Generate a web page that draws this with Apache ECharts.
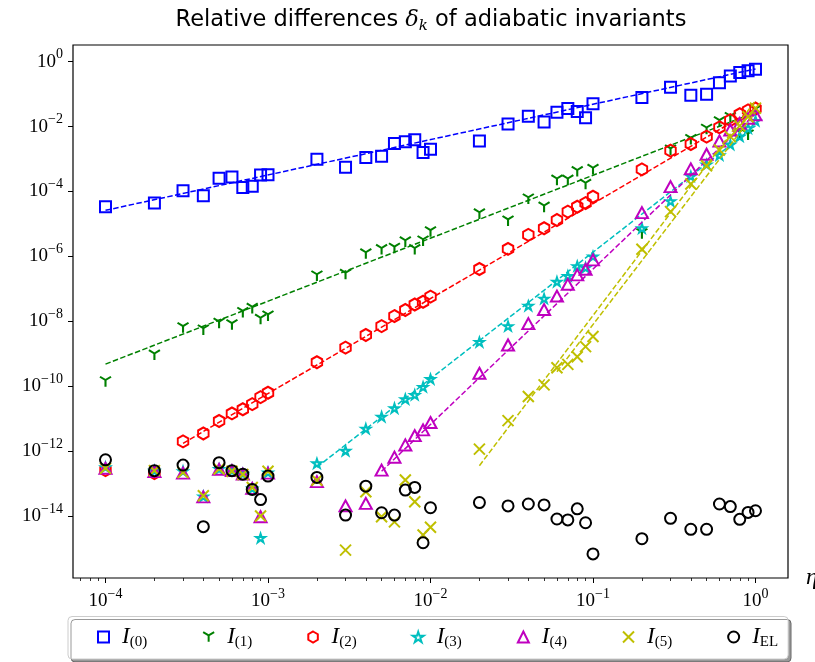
<!DOCTYPE html>
<html>
<head>
<meta charset="utf-8">
<script src="https://cdn.jsdelivr.net/npm/echarts@6/dist/echarts.min.js"></script>
<style>
html,body{margin:0;padding:0;background:#fff;}
#chart{width:815px;height:662px;}
</style>
</head>
<body>
<div id="chart"></div>
<script>
// eta values (x)
const eta = [1e-4,2e-4,3e-4,4e-4,5e-4,6e-4,7e-4,8e-4,9e-4,1e-3,
  2e-3,3e-3,4e-3,5e-3,6e-3,7e-3,8e-3,9e-3,1e-2,
  2e-2,3e-2,4e-2,5e-2,6e-2,7e-2,8e-2,9e-2,0.1,
  0.2,0.3,0.4,0.5,0.6,0.7,0.8,0.9,1.0];

const I0 = [3.4e-5,4.4e-5,1.05e-4,7.4e-5,2.57e-4,2.82e-4,1.32e-4,1.45e-4,3.2e-4,3.3e-4,
  9.8e-4,5.6e-4,1.12e-3,1.23e-3,3.0e-3,3.4e-3,3.9e-3,1.58e-3,2.0e-3,
  3.6e-3,1.2e-2,2.1e-2,1.38e-2,2.75e-2,3.6e-2,2.9e-2,1.86e-2,5.1e-2,
  7.9e-2,0.162,9.3e-2,0.1,0.224,0.363,0.468,0.525,0.589];
const I1 = [1.38e-10,9.1e-10,6.3e-9,5.4e-9,8.7e-9,7.8e-9,1.86e-8,2.5e-8,1.15e-8,1.45e-8,
  2.5e-7,2.8e-7,1.2e-6,1.62e-6,1.78e-6,2.8e-6,1.62e-6,3.0e-6,5.75e-6,
  2.04e-5,1.23e-5,5.9e-5,3.3e-5,2.24e-4,2.24e-4,4.1e-4,1.66e-4,4.8e-4,
  5.0e-6,1.9e-3,4.0e-3,8.3e-3,1.41e-2,1.9e-2,6.3e-3,5.5e-3,3.16e-2];
const I2 = [2.6e-13,2.1e-13,2.0e-12,3.5e-12,8.5e-12,1.45e-11,1.95e-11,2.8e-11,4.6e-11,6.3e-11,
  5.5e-10,1.55e-9,3.8e-9,7.1e-9,1.45e-8,2.24e-8,3.3e-8,4.0e-8,5.75e-8,
  4.1e-7,1.7e-6,4.6e-6,7.4e-6,1.32e-5,2.4e-5,3.4e-5,4.4e-5,6.9e-5,
  4.8e-4,1.82e-3,2.9e-3,4.9e-3,9.5e-3,1.58e-2,2.4e-2,3.16e-2,3.6e-2];
const I3 = [3.2e-13,2.5e-13,2.4e-13,4.0e-14,2.8e-13,2.5e-13,2.0e-13,7.1e-14,2.1e-15,2.2e-13,
  4.2e-13,1.02e-12,4.9e-12,1.15e-11,2.1e-11,4.0e-11,5.4e-11,9.5e-11,1.66e-10,
  2.3e-9,7.1e-9,3.0e-8,5.0e-8,1.66e-7,2.5e-7,5.0e-7,4.5e-7,1.0e-6,
  7.4e-6,5.0e-5,2.95e-4,6.8e-4,1.32e-3,2.8e-3,5.0e-3,8.9e-3,1.5e-2];
const I4 = [2.95e-13,2.35e-13,2.1e-13,3.9e-14,2.75e-13,2.5e-13,1.95e-13,7.1e-14,9.5e-15,2.1e-13,
  1.15e-13,2.05e-14,2.45e-14,2.6e-13,6.5e-13,1.55e-12,3.0e-12,4.5e-12,7.6e-12,
  2.5e-10,1.86e-9,8.5e-9,2.3e-8,6.0e-8,1.38e-7,2.7e-7,4.0e-7,7.8e-7,
  2.24e-5,1.41e-4,5.0e-4,1.41e-3,3.6e-3,7.9e-3,1.26e-2,1.8e-2,2.3e-2];
const I5 = [2.95e-13,2.5e-13,2.2e-13,4.2e-14,2.8e-13,2.4e-13,1.9e-13,7.6e-14,1.0e-14,2.4e-13,
  1.26e-13,8.9e-16,5.6e-14,9.5e-15,6.6e-15,1.29e-13,2.75e-14,2.6e-15,4.5e-15,
  1.15e-12,8.7e-12,4.8e-11,1.1e-10,3.7e-10,4.7e-10,8.1e-10,1.66e-9,3.4e-9,
  1.66e-6,2.4e-5,1.7e-4,6.2e-4,1.9e-3,4.9e-3,1.05e-2,2.0e-2,3.7e-2];
const IEL = [5.4e-13,2.5e-13,3.7e-13,4.7e-15,4.4e-13,2.5e-13,1.95e-13,6.6e-14,3.2e-14,1.7e-13,
  1.55e-13,1.07e-14,8.3e-14,1.26e-14,1.07e-14,6.3e-14,7.6e-14,1.5e-15,1.8e-14,
  2.6e-14,2.05e-14,2.35e-14,2.2e-14,8.1e-15,7.6e-15,1.66e-14,6.2e-15,6.8e-16,
  2.0e-15,8.5e-15,3.9e-15,3.9e-15,2.35e-14,1.95e-14,7.9e-15,1.29e-14,1.45e-14];

// fitted power-law lines (end points)
const fitX0 = [1e-4, 1], fitY0 = [2.63e-5, 0.60];
const fitX1 = [1e-4, 1], fitY1 = [4.8e-10, 2.75e-2];
const fitX2 = [3e-4, 1], fitY2 = [1.74e-12, 3.6e-2];
const fitX3 = [2e-3, 1], fitY3 = [3.2e-13, 1.07e-2];
const fitX4 = [5e-3, 1], fitY4 = [2.4e-13, 2.5e-2];
const fitX5a = [2e-2, 1], fitY5a = [3.55e-13, 6.3e-2];
const fitX5b = [6e-2, 1], fitY5b = [2.8e-10, 2.8e-2];

// axis extents and ticks
const xMin = 6.3096e-5, xMax = 1.5849;
const yMin = 1.23e-16, yMax = 3.27;
const xMajor = [1e-4, 1e-3, 1e-2, 1e-1, 1];
const xMinor = [7e-5,8e-5,9e-5,
  2e-4,3e-4,4e-4,5e-4,6e-4,7e-4,8e-4,9e-4,
  2e-3,3e-3,4e-3,5e-3,6e-3,7e-3,8e-3,9e-3,
  2e-2,3e-2,4e-2,5e-2,6e-2,7e-2,8e-2,9e-2,
  0.2,0.3,0.4,0.5,0.6,0.7,0.8,0.9];
const yMajor = [1e-14,1e-12,1e-10,1e-8,1e-6,1e-4,1e-2,1];

const names = ['I(0)','I(1)','I(2)','I(3)','I(4)','I(5)','IEL'];
const colors = ['#0000ff','#008000','#ff0000','#00bfbf','#bf00bf','#bfbf00','#000000'];

const SYM_TRI_DOWN = 'path://M0,0L0,1M0,0L-0.866,-0.5M0,0L0.866,-0.5';
const SYM_HEX = 'path://M0,-1L0.866,-0.5L0.866,0.5L0,1L-0.866,0.5L-0.866,-0.5Z';
const SYM_STAR = 'path://M0,-1L0.2245,-0.309L0.951,-0.309L0.363,0.118L0.588,0.809L0,0.382L-0.588,0.809L-0.363,0.118L-0.951,-0.309L-0.2245,-0.309Z';
const SYM_X = 'path://M-1,-1L1,1M1,-1L-1,1';

const symbols = ['rect', SYM_TRI_DOWN, SYM_HEX, SYM_STAR, 'triangle', SYM_X, 'circle'];
const sizes = [[11,11],[11,10],[10.5,12],[9,8.6],[12,11],[11,11],[11,11]];
const values = [I0, I1, I2, I3, I4, I5, IEL];

function pair(xs, ys){ return xs.map((x,i)=>[x, ys[i]]); }

const series = [];
values.forEach((v,k)=>{
  series.push({
    name: names[k], type:'scatter', data: pair(eta, v),
    symbol: symbols[k], symbolSize: sizes[k],
    itemStyle: {color:'rgba(0,0,0,0)', borderColor: colors[k], borderWidth: 2, opacity:1},
    z: 3 + k
  });
});
const fits = [[fitX0,fitY0,0],[fitX1,fitY1,1],[fitX2,fitY2,2],[fitX3,fitY3,3],[fitX4,fitY4,4],[fitX5a,fitY5a,5],[fitX5b,fitY5b,5]];
fits.forEach((f,j)=>{
  series.push({
    name: 'fit'+j, type:'line', data: pair(f[0], f[1]),
    symbol:'none', showSymbol:false, silent:true,
    lineStyle:{color: colors[f[2]], width:1.5, type:[5.5,2.4]},
    z: 3 + f[2]
  });
});

function expLabel(v){
  const e = Math.round(Math.log10(v));
  return '{b|10}{s|' + (e < 0 ? '\u2212' : '') + Math.abs(e) + '}';
}
const labelRich = {
  b: {fontFamily:'Liberation Serif', fontSize:19, color:'#000', lineHeight:28},
  s: {fontFamily:'Liberation Serif', fontSize:14, color:'#000', lineHeight:13, verticalAlign:'top'}
};

const chart = echarts.init(document.getElementById('chart'), null, {renderer:'canvas'});
chart.setOption({
  animation:false,
  backgroundColor:'#fff',
  grid:{left:73, right:27, top:45, bottom:84, show:true, borderColor:'#000', borderWidth:1.2,
        backgroundColor:'transparent', containLabel:false, outerBoundsMode:'none'},
  xAxis:[{
    type:'log', logBase:10, min:xMin, max:xMax, position:'bottom',
    name:'\u03b7', nameLocation:'end', nameGap:18,
    nameTextStyle:{fontFamily:'Liberation Serif', fontStyle:'italic', fontSize:24, color:'#000', verticalAlign:'middle', padding:[0,0,0,0]},
    axisLine:{show:false},
    splitLine:{show:false},
    axisTick:{show:true, length:5, lineStyle:{color:'#000', width:1}, customValues:xMajor},
    axisLabel:{customValues:xMajor, formatter:expLabel, rich:labelRich, margin:9}
  },{
    type:'log', logBase:10, min:xMin, max:xMax, position:'bottom',
    axisLine:{show:false}, splitLine:{show:false},
    axisTick:{show:true, length:3, lineStyle:{color:'#000', width:0.8}, customValues:xMinor},
    axisLabel:{show:false}
  }],
  yAxis:[{
    type:'log', logBase:10, min:yMin, max:yMax,
    axisLine:{show:false}, splitLine:{show:false},
    axisTick:{show:true, length:5, lineStyle:{color:'#000', width:1}, customValues:yMajor},
    axisLabel:{customValues:yMajor, formatter:expLabel, rich:labelRich, margin:10}
  }],
  legend:{
    data: names, bottom:3, left:68,
    itemWidth:11, itemHeight:11, itemGap:55,
    padding:[9,10,9,29],
    borderColor:'#cccccc', borderWidth:1, borderRadius:4, backgroundColor:'#fff',
    shadowColor:'rgba(0,0,0,0.4)', shadowOffsetX:3, shadowOffsetY:3, shadowBlur:0,
    formatter: function(n){
      if (n === 'IEL') return '{i|I}{r|EL}';
      return '{i|I}{s|' + n.slice(1) + '}';
    },
    textStyle:{
      padding:[0,0,0,8],
      rich:{
        i:{fontFamily:'Liberation Serif', fontStyle:'italic', fontSize:23, color:'#000', lineHeight:26},
        s:{fontFamily:'Liberation Serif', fontSize:15, color:'#000', lineHeight:15, verticalAlign:'bottom'},
        r:{fontFamily:'Liberation Serif', fontSize:15, color:'#000', lineHeight:15, verticalAlign:'bottom'}
      }
    }
  },
  graphic:[{
    type:'text', x:431, y:7,
    style:{
      text:'{t|Relative differences }{m|\u03b4}{k|k}{t| of adiabatic invariants}',
      textAlign:'center',
      rich:{
        t:{fontFamily:'DejaVu Sans', fontSize:22.5, fill:'#000', lineHeight:27},
        m:{fontFamily:'DejaVu Serif', fontStyle:'italic', fontSize:22.5, fill:'#000', lineHeight:27},
        k:{fontFamily:'DejaVu Serif', fontStyle:'italic', fontSize:15, fill:'#000', lineHeight:15, verticalAlign:'bottom'}
      }
    }
  }],
  series: series
});
</script>
</body>
</html>
